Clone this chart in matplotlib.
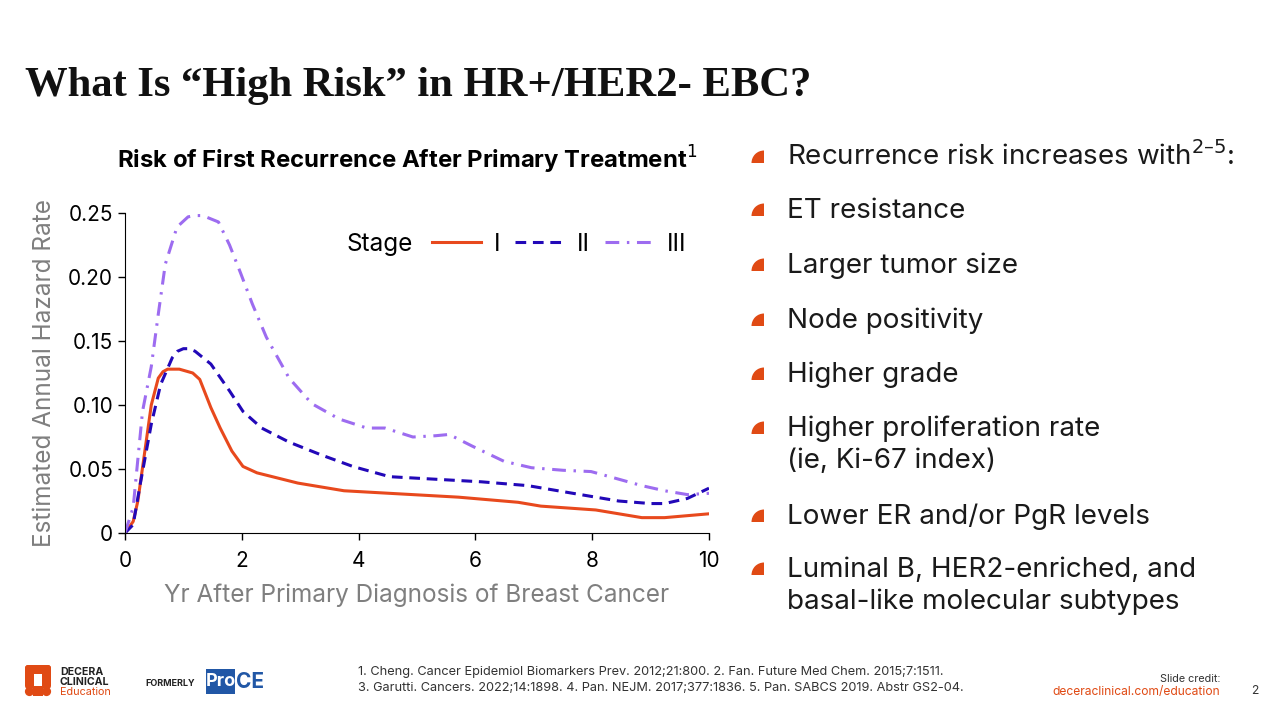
import matplotlib
matplotlib.use('Agg')
import matplotlib.pyplot as plt
from matplotlib.patches import Wedge, FancyBboxPatch, Rectangle, Circle

plt.rcParams['font.family'] = ['Inter', 'DejaVu Sans']

# data
yrs_1 = [0, 0.14, 0.22, 0.34, 0.45, 0.57, 0.65, 0.73, 0.93, 1.16, 1.28, 1.47, 1.63, 1.83, 2.02, 2.26,
         2.96, 3.75, 4.53, 5.71, 6.73, 7.12, 8.06, 8.85, 9.24, 10]
stage_1 = [0, 0.009, 0.025, 0.064, 0.100, 0.121, 0.126, 0.128, 0.128, 0.125, 0.120, 0.098, 0.082,
           0.064, 0.052, 0.047, 0.039, 0.033, 0.031, 0.028, 0.024, 0.021, 0.018, 0.012, 0.012, 0.015]

yrs_2 = [0, 0.14, 0.26, 0.45, 0.61, 0.81, 0.9, 1.0, 1.1, 1.2, 1.47, 1.79, 2.02, 2.34, 2.81, 3.36, 3.9,
         4.53, 5.32, 6.1, 6.9, 7.67, 8.45, 9.0, 9.24, 9.63, 10]
stage_2 = [0, 0.0065, 0.038, 0.085, 0.116, 0.137, 0.142, 0.144, 0.144, 0.142, 0.132, 0.111, 0.095,
           0.082, 0.071, 0.061, 0.052, 0.044, 0.042, 0.040, 0.037, 0.031, 0.025, 0.023, 0.023, 0.027,
           0.035]

yrs_3 = [0, 0.14, 0.3, 0.45, 0.57, 0.69, 0.89, 1.08, 1.2, 1.33, 1.6, 1.79, 1.98, 2.18, 2.42, 2.81,
         3.2, 3.67, 4.14, 4.45, 4.93, 5.32, 5.55, 5.94, 6.49, 6.96, 7.5, 7.98, 8.3, 8.85, 9.24,
         9.63, 10]
stage_3 = [0, 0.020, 0.095, 0.130, 0.171, 0.210, 0.239, 0.247, 0.248, 0.248, 0.243, 0.225, 0.203,
           0.179, 0.153, 0.121, 0.101, 0.089, 0.082, 0.082, 0.075, 0.076, 0.077, 0.068, 0.056,
           0.051, 0.049, 0.048, 0.044, 0.037, 0.033, 0.030, 0.031]

x_ticks = [0, 2, 4, 6, 8, 10]
y_ticks = [0, 0.05, 0.10, 0.15, 0.20, 0.25]
y_tick_labels = ['0', '0.05', '0.10', '0.15', '0.20', '0.25']

bullets = ['Recurrence risk increases with$^{2\u20135}$:', 'ET resistance', 'Larger tumor size',
           'Node positivity', 'Higher grade', 'Higher proliferation rate\n(ie, Ki-67 index)',
           'Lower ER and/or PgR levels', 'Luminal B, HER2-enriched, and\nbasal-like molecular subtypes']
bullet_y = [157, 210, 265, 320, 374, 428, 516, 569]

refs = ['1. Cheng. Cancer Epidemiol Biomarkers Prev. 2012;21:800. 2. Fan. Future Med Chem. 2015;7:1511.',
        '3. Garutti. Cancers. 2022;14:1898. 4. Pan. NEJM. 2017;377:1836. 5. Pan. SABCS 2019. Abstr GS2-04.']

RED = '#E8491D'
BLUE = '#2208B8'
PURPLE = '#9D6CF0'
ORANGE = '#E04A14'
GRAY = '#7F7F7F'

fig = plt.figure(figsize=(12.8, 7.2), dpi=100)

# overlay in pixel coordinates for slide text
ov = fig.add_axes([0, 0, 1, 1])
ov.set_xlim(0, 1280)
ov.set_ylim(720, 0)
ov.axis('off')

ov.text(25, 86, 'What Is \u201cHigh Risk\u201d in HR+/HER2- EBC?', family='Liberation Serif',
        fontweight='bold', fontsize=30.7, va='center', ha='left', color='#111111')
ov.text(407, 160, 'Risk of First Recurrence After Primary Treatment$^{1}$', fontweight='bold',
        fontsize=17.2, ha='center', va='center', color='black')

for txt, yy in zip(bullets, bullet_y):
    ov.add_patch(Wedge((764, yy + 6), 12.5, 180, 270, color=ORANGE, lw=0))
    for k, line in enumerate(txt.split('\n')):
        ov.text(787, yy + 8 + 32 * k, line, fontsize=20, ha='left', va='baseline', color='#1a1a1a')

ov.text(358, 672, refs[0], fontsize=9.2, color='#333333', va='center')
ov.text(358, 688, refs[1], fontsize=9.2, color='#333333', va='center')
ov.text(1220, 679, 'Slide credit:', fontsize=7.8, color='#333333', ha='right', va='center')
ov.text(1220, 692, 'deceraclinical.com/education', fontsize=8.7, color=ORANGE, ha='right', va='center')
ov.text(1255, 691, '2', fontsize=8.7, color='#333333', ha='center', va='center')

# logos
for (lx, ly, w, h) in [(25, 665, 26, 9), (25, 665, 9, 24), (42, 665, 9, 24)]:
    ov.add_patch(FancyBboxPatch((lx, ly), w, h, boxstyle='round,pad=0,rounding_size=3.5',
                                color=ORANGE, lw=0))
for cx in (29.5, 46.5):
    ov.add_patch(Circle((cx, 691.5), 4.6, color=ORANGE, lw=0))
ov.add_patch(Rectangle((33, 686), 10, 10, color=ORANGE, lw=0))
ov.text(60, 672, 'DECERA', fontsize=7.6, fontweight='bold', color='#222222', va='center')
ov.text(60, 682, 'CLINICAL', fontsize=7.6, fontweight='bold', color='#222222', va='center')
ov.text(60, 692, 'Education', fontsize=7.8, color=ORANGE, va='center')
ov.text(145, 684, 'FORMERLY', fontsize=6.5, fontweight='bold', color='#222222', va='center')
ov.add_patch(Rectangle((206, 669), 29, 25, color='#2157A6', lw=0))
ov.text(220.5, 682, 'Pro', fontsize=13, fontweight='bold', color='white', ha='center', va='center')
ov.text(236, 682, 'CE', fontsize=15, fontweight='bold', color='#2157A6', ha='left', va='center')

# chart
ax = fig.add_axes([125 / 1280, 1 - 533 / 720, 584 / 1280, 320 / 720])
ax.plot(yrs_1, stage_1, color=RED, lw=2.2, label='I')
ax.plot(yrs_2, stage_2, color=BLUE, lw=2.2, dashes=(3.5, 2.2), label='II')
ax.plot(yrs_3, stage_3, color=PURPLE, lw=2.2, dashes=(4.5, 2.5, 0.8, 2.5), label='III')
ax.set_xlim(0, 10)
ax.set_ylim(0, 0.25)
ax.set_xticks(x_ticks)
ax.set_yticks(y_ticks)
ax.set_yticklabels(y_tick_labels)
ax.tick_params(labelsize=15, colors='black', length=5, width=1)
ax.tick_params(axis='x', pad=8)
for s in ['top', 'right']:
    ax.spines[s].set_visible(False)
for s in ['left', 'bottom']:
    ax.spines[s].set_color('black')
ax.set_xlabel('Yr After Primary Diagnosis of Breast Cancer', fontsize=17.5, color=GRAY, labelpad=9)
ax.set_ylabel('Estimated Annual Hazard Rate', fontsize=17.5, color=GRAY, labelpad=9)
ax.patch.set_alpha(0)

ax.text(0.380, 0.903, 'Stage', transform=ax.transAxes, fontsize=17.5, va='center', ha='left')
ax.legend(loc='center left', bbox_to_anchor=(0.526, 0.903), ncol=3, frameon=False, fontsize=17.5,
          handlelength=2.0, handletextpad=0.55, columnspacing=0.6, borderaxespad=0, borderpad=0)

fig.savefig('out.png', dpi=100)
